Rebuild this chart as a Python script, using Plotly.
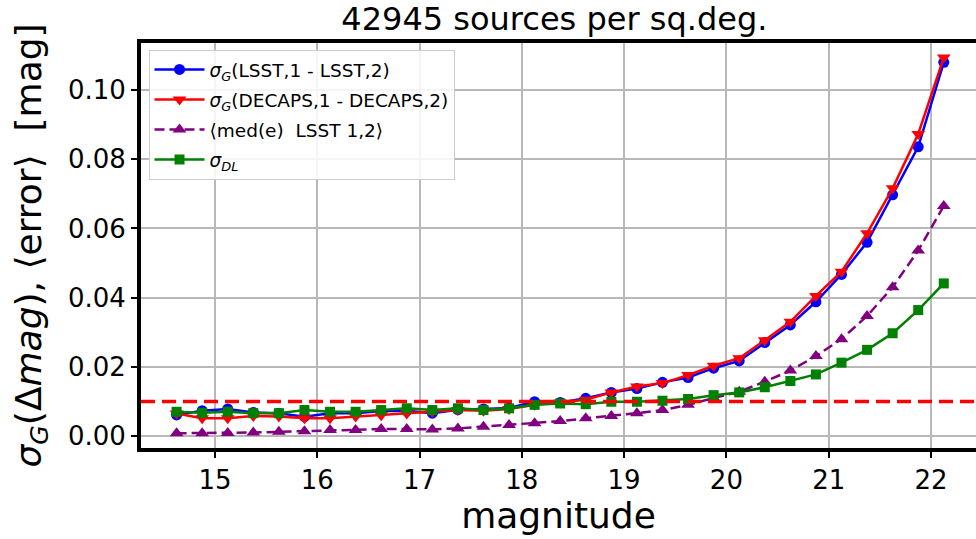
import plotly.graph_objects as go

# Bin centres (magnitude)
magnitude = [14.625, 14.875, 15.125, 15.375, 15.625, 15.875, 16.125, 16.375,
             16.625, 16.875, 17.125, 17.375, 17.625, 17.875, 18.125, 18.375,
             18.625, 18.875, 19.125, 19.375, 19.625, 19.875, 20.125, 20.375,
             20.625, 20.875, 21.125, 21.375, 21.625, 21.875, 22.125]

# sigma_G of LSST epoch 1 - epoch 2 differences
sigma_lsst = [0.0061, 0.0073, 0.0078, 0.0068, 0.0066, 0.0056, 0.0066, 0.0066,
              0.0072, 0.0073, 0.0066, 0.0076, 0.0078, 0.0081, 0.0099, 0.0097,
              0.0109, 0.0126, 0.0137, 0.0155, 0.0169, 0.0196, 0.0217, 0.0270,
              0.0321, 0.0388, 0.0467, 0.0560, 0.0697, 0.0836, 0.1080]

# sigma_G of DECAPS epoch 1 - epoch 2 differences
sigma_decaps = [0.0065, 0.0051, 0.0051, 0.0058, 0.0056, 0.0051, 0.0051, 0.0056,
                0.0060, 0.0065, 0.0070, 0.0075, 0.0073, 0.0078, 0.0090, 0.0097,
                0.0105, 0.0126, 0.0143, 0.0153, 0.0176, 0.0203, 0.0225, 0.0277,
                0.0330, 0.0405, 0.0475, 0.0586, 0.0716, 0.0873, 0.1094]

# median reported error, LSST epochs 1,2
med_err_lsst = [0.0008, 0.0008, 0.0009, 0.0010, 0.0012, 0.0014, 0.0017, 0.0017,
                0.0020, 0.0020, 0.0019, 0.0022, 0.0027, 0.0032, 0.0037, 0.0043,
                0.0051, 0.0058, 0.0066, 0.0075, 0.0090, 0.0110, 0.0128, 0.0157,
                0.0189, 0.0231, 0.0280, 0.0347, 0.0430, 0.0536, 0.0665]

# sigma_DL
sigma_dl = [0.0070, 0.0067, 0.0070, 0.0066, 0.0066, 0.0075, 0.0070, 0.0070,
            0.0075, 0.0080, 0.0075, 0.0080, 0.0075, 0.0080, 0.0090, 0.0094,
            0.0092, 0.0099, 0.0099, 0.0102, 0.0107, 0.0118, 0.0126, 0.0141,
            0.0159, 0.0178, 0.0212, 0.0249, 0.0297, 0.0364, 0.0441]

reference_level = 0.01
x_ticks = [15, 16, 17, 18, 19, 20, 21, 22]
y_ticks = [0.00, 0.02, 0.04, 0.06, 0.08, 0.10]
title_text = "42945 sources per sq.deg."

FONT = "DejaVu Sans"

fig = go.Figure()

fig.add_trace(go.Scatter(
    x=magnitude, y=sigma_lsst, mode="lines+markers", legendgroup="a",
    name="<i>σ</i><sub><i>G</i></sub>(LSST,1 - LSST,2)",
    line=dict(color="blue", width=2.5),
    marker=dict(symbol="circle", size=11, color="blue"),
))
fig.add_trace(go.Scatter(
    x=magnitude, y=sigma_decaps, mode="lines+markers", legendgroup="b",
    name="<i>σ</i><sub><i>G</i></sub>(DECAPS,1 - DECAPS,2)",
    line=dict(color="red", width=2.5),
    marker=dict(symbol="triangle-down", size=12, color="red"),
))
fig.add_trace(go.Scatter(
    x=magnitude, y=med_err_lsst, mode="lines+markers", legendgroup="c",
    name="⟨med(e)\u00a0\u00a0LSST 1,2⟩",
    line=dict(color="purple", width=2.5, dash="10px,5px"),
    marker=dict(symbol="triangle-up", size=12, color="purple"),
))
fig.add_trace(go.Scatter(
    x=magnitude, y=sigma_dl, mode="lines+markers", legendgroup="d",
    name="<i>σ</i><sub><i>DL</i></sub>",
    line=dict(color="green", width=2.5),
    marker=dict(symbol="square", size=10, color="green"),
))

# horizontal reference level across the whole axis
fig.add_shape(
    type="line", xref="x domain", yref="y",
    x0=0, x1=1, y0=reference_level, y1=reference_level,
    line=dict(color="red", width=3.5, dash="14px,7px"),
    layer="above",
)

fig.update_layout(
    width=976, height=539,
    margin=dict(l=141, r=0, t=43, b=91, pad=0),
    paper_bgcolor="white", plot_bgcolor="white",
    font=dict(family=FONT, color="black"),
    showlegend=True,
    legend=dict(
        x=0.009, y=0.983, xanchor="left", yanchor="top",
        bgcolor="rgba(255,255,255,0.85)", bordercolor="#cccccc", borderwidth=1,
        font=dict(family=FONT, size=18.5, color="black"),
        tracegroupgap=3, itemwidth=50,
    ),
    title=dict(
        text=title_text, x=0.568, xref="container", xanchor="center",
        y=0.965, yref="container", yanchor="middle",
        font=dict(family=FONT, size=32, color="black"),
    ),
)

fig.update_xaxes(
    range=[14.277, 22.44],
    tickvals=x_ticks, ticktext=[str(t) for t in x_ticks],
    showgrid=True, gridcolor="#b8b8b8", gridwidth=1.5,
    showline=True, linecolor="black", linewidth=4, mirror=True,
    ticks="outside", ticklen=6, tickwidth=1.5, tickcolor="black",
    tickfont=dict(family=FONT, size=26, color="black"),
    zeroline=False,
    title=dict(text="magnitude", font=dict(family=FONT, size=36, color="black"),
               standoff=10),
)
fig.update_yaxes(
    range=[-0.00347, 0.1136],
    tickvals=y_ticks, ticktext=[f"{t:.2f}" for t in y_ticks],
    showgrid=True, gridcolor="#b8b8b8", gridwidth=1.5,
    showline=True, linecolor="black", linewidth=4, mirror=False,
    ticks="outside", ticklen=6, tickwidth=1.5, tickcolor="black",
    tickfont=dict(family=FONT, size=26, color="black"),
    zeroline=False,
)

# rotated y-axis label
fig.add_annotation(
    text="<i>σ</i><sub><i>G</i></sub>(Δ<i>mag</i>), ⟨error⟩\u00a0\u00a0[mag]",
    xref="paper", yref="paper", x=(31 - 141) / 835, y=0.5,
    xanchor="center", yanchor="middle", textangle=-90, showarrow=False,
    font=dict(family=FONT, size=36, color="black"),
)

fig.write_html("out.html")
